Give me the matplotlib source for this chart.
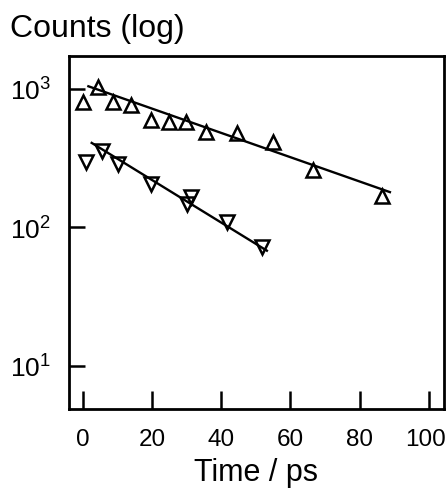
import matplotlib
matplotlib.use("Agg")
import matplotlib.pyplot as plt
import matplotlib.transforms as mtrans
from matplotlib.ticker import FixedLocator, NullLocator

plt.rcParams['font.family'] = ['Liberation Sans', 'DejaVu Sans']
plt.rcParams['mathtext.fontset'] = 'custom'
plt.rcParams['mathtext.rm'] = 'Liberation Sans'
plt.rcParams['mathtext.it'] = 'Liberation Sans'

# up-triangle series
t_up = [0.2, 4.4, 8.9, 13.9, 19.7, 25.0, 29.9, 35.6, 44.7, 55.1, 66.4, 86.3]
c_up = [809, 1028, 802, 766, 600, 581, 575, 487, 478, 417, 261, 170]
# fitted line ends (straight on log axis)
fit_up_t = [1.7, 88.7]
fit_up_c = [1046, 180]

# down-triangle series
t_dn = [1.0, 5.5, 10.3, 19.7, 30.2, 31.2, 41.6, 51.7]
c_dn = [296, 359, 287, 206, 148, 165, 109, 72]
fit_dn_t = [2.65, 53.2]
fit_dn_c = [408, 68]

xticks = [0, 20, 40, 60, 80, 100]
yticks = [10, 100, 1000]
ylabels = ['$10^{1}$', '$10^{2}$', '$10^{3}$']

fig = plt.figure(figsize=(4.48, 4.89), dpi=100)
ax = fig.add_axes([0.154, 0.1616, 0.837, 0.7218])

ax.plot(fit_up_t, fit_up_c, color='black', lw=1.7)
ax.plot(fit_dn_t, fit_dn_c, color='black', lw=1.7)
ax.plot(t_up, c_up, linestyle='none', marker='^', ms=9.5, mew=1.8,
        mfc='none', mec='black')
ax.plot(t_dn, c_dn, linestyle='none', marker='v', ms=9.5, mew=1.8,
        mfc='none', mec='black')

ax.set_yscale('log')
ax.set_xlim(-3.9, 104.3)
ax.set_ylim(4.89, 1730)

ax.xaxis.set_major_locator(FixedLocator(xticks))
ax.set_xticklabels([str(v) for v in xticks])
ax.yaxis.set_major_locator(FixedLocator(yticks))
ax.yaxis.set_minor_locator(NullLocator())
ax.set_yticklabels(ylabels)

ax.tick_params(axis='x', direction='in', length=13, width=1.8, pad=14,
               labelsize=17.5)
ax.tick_params(axis='y', direction='in', length=11.5, width=1.8, pad=13,
               labelsize=19)
for s in ax.spines.values():
    s.set_linewidth(2)

# nudge the last x label left so it stays inside the figure
last = ax.get_xticklabels()[-1]
last.set_transform(last.get_transform() +
                   mtrans.ScaledTranslation(-4 / 100, 0, fig.dpi_scale_trans))

fig.text(0.5725, 0.016, 'Time / ps', fontsize=22, ha='center', va='baseline')
fig.text(0.022, 0.924, 'Counts (log)', fontsize=23, ha='left', va='baseline')

fig.savefig('out.png', dpi=100)
